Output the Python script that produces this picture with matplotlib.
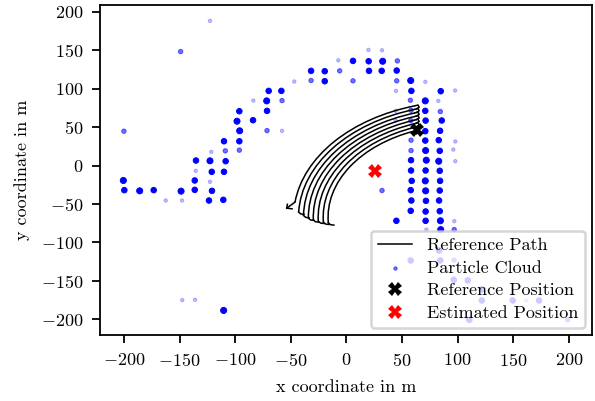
import matplotlib
matplotlib.use("Agg")
import matplotlib.pyplot as plt
import numpy as np
from matplotlib.patches import Arc

plt.rcParams['font.family'] = 'serif'
plt.rcParams['font.serif'] = ['cmr10']
plt.rcParams['mathtext.fontset'] = 'cm'
plt.rcParams['axes.formatter.use_mathtext'] = True
plt.rcParams['axes.unicode_minus'] = True

## Data
# particle cloud: x, y in m and weight (1 = heavy particle, small = light)
particleX = [-122.6, -149.0, -7.2, -31.7, -19.4, -6.0, -46.8, -31.7, -19.4, -69.8,
             -58.4, -83.6, -71.6, -57.8, -96.2, -71.3, -98.3, -83.9, -200.0, -95.9,
             -71.3, -57.8, -110.0, -96.2, -108.8, -121.4, -96.2, -135.2, -122.6, -108.5,
             -135.4, -121.0, -110.0, -200.5, -136.3, -122.6, -199.6, -185.8, -173.2, -148.6,
             -136.3, -120.8, -162.4, -147.7, -123.5, -110.6, -147.5, -136.0, -110.3,
             6.0, 19.9, 32.1, 20.1, 32.7, 45.9, 20.4, 31.8, 45.3, 6.0,
             45.3, 57.9, 71.0, 44.7, 58.5, 84.9, 97.8, 57.6, 71.0, 82.7,
             58.2, 71.0, 84.5, 44.4, 44.4, 58.0, 71.3, 85.8, 71.0, 84.3,
             58.2, 71.0, 83.1, 98.0, 58.2, 71.3, 84.0, 96.2, 58.2, 71.9,
             83.1, 98.0, 58.2, 71.3, 84.0, 58.8, 71.0, 84.3, 32.1, 57.9,
             71.3, 84.0, 58.5, 71.6, 83.4, 57.9, 71.3, 84.0, 45.0, 71.3,
             84.6, 97.1, 72.0, 84.9, 97.0,
             83.4, 57.9, 84.5, 96.9, 96.6, 109.2, 121.8, 121.8, 149.6, 161.6,
             173.3, 198.2, 199.0, 110.6]
particleY = [188.4, 148.4, 137.0, 123.3, 122.8, 123.3, 109.4, 110.7, 109.8, 97.2,
             97.2, 84.6, 84.2, 84.6, 70.7, 71.2, 57.7, 59.0, 44.7, 45.2,
             45.5, 45.2, 31.6, 31.6, 19.1, 17.8, 20.0, 6.5, 6.1, 5.6,
             -6.9, -8.2, -8.2, -19.5, -19.5, -21.2, -32.1, -33.0, -32.1, -33.4,
             -31.7, -33.0, -45.6, -45.6, -45.6, -44.7, -175.4, -174.9, -188.8,
             136.3, 150.6, 150.1, 135.8, 135.8, 136.3, 123.3, 123.3, 123.7, 110.3,
             110.3, 110.7, 109.0, 97.2, 97.2, 96.8, 97.7, 85.0, 84.2, 84.2,
             72.0, 71.2, 70.3, 71.2, 58.5, 58.5, 58.5, 58.6, 44.7, 45.2,
             33.0, 32.5, 33.0, 31.3, 19.5, 19.5, 19.1, 20.8, 6.9, 6.9,
             5.6, 5.6, -6.5, -6.5, -6.9, -20.0, -20.0, -20.0, -32.6, -32.1,
             -33.0, -32.6, -45.6, -46.0, -45.6, -59.0, -59.9, -59.5, -72.0, -72.0,
             -72.0, -72.5, -83.5, -83.5, -83.5,
             -110.7, -123.7, -123.7, -123.3, -148.8, -149.7, -161.5, -175.8, -175.8, -175.8,
             -175.8, -162.5, -201.0, -201.0]
particleW = [0.2, 0.45, 0.2, 0.8, 0.8, 0.45, 0.2, 0.45, 0.8, 0.8,
             0.8, 0.2, 1.0, 0.45, 0.8, 0.8, 1.0, 0.8, 0.45, 1.0,
             0.45, 0.2, 0.8, 0.8, 0.45, 0.2, 0.45, 0.8, 1.0, 0.8,
             0.2, 0.8, 0.8, 1.0, 0.8, 0.2, 0.8, 1.0, 0.8, 1.0,
             0.8, 0.8, 0.2, 0.2, 0.8, 0.8, 0.2, 0.2, 1.0,
             0.8, 0.2, 0.2, 0.8, 1.0, 0.45, 0.8, 0.8, 0.8, 0.45,
             0.45, 1.0, 0.2, 0.2, 0.8, 0.8, 0.2, 0.45, 1.0, 0.2,
             0.45, 0.8, 0.45, 0.2, 0.2, 0.45, 0.8, 0.8, 0.8, 0.8,
             0.45, 0.8, 0.8, 0.2, 0.45, 1.0, 0.8, 0.2, 0.8, 1.0,
             1.0, 0.2, 0.8, 0.8, 0.8, 0.8, 1.0, 0.8, 0.45, 0.8,
             1.0, 0.8, 0.8, 0.8, 0.8, 0.8, 0.8, 0.8, 0.8, 0.8,
             1.0, 0.2, 0.2, 1.0, 0.45,
             0.8, 0.8, 0.8, 0.45, 0.8, 0.8, 0.8, 0.8, 0.8, 0.2,
             0.8, 0.2, 0.45, 0.8]

# reference path: concentric arcs around one centre
pathCenter = (103.6, -67.3)
pathRadius = [151.0, 146.6, 142.1, 137.7, 133.3, 128.9, 124.4, 120.0]
pathStartDeg = [172.5, 177.4, 179.1, 180.5, 181.5, 182.3, 183.0, 183.5]
pathEndDeg = [106.1, 106.6, 107.1, 107.7, 108.3, 108.9, 109.6, 110.4]

# small turns at the ends of the arcs
startHooksX = [[-46.1, -53.6], [-42.9, -41.0, -38.0], [-38.5, -36.5, -33.5], [-34.1, -32.1, -29.1],
               [-29.7, -27.7, -24.7], [-25.2, -23.2, -20.2], [-20.6, -18.6, -15.6], [-16.2, -14.2, -11.2]]
startHooksY = [[-47.6, -55.6], [-60.6, -63.1, -63.6], [-65.1, -67.6, -68.1], [-68.5, -71.0, -71.5],
               [-70.8, -73.3, -73.8], [-72.5, -75.0, -75.5], [-73.8, -76.3, -76.8], [-74.6, -77.1, -77.6]]
endHooksX = [[61.8, 64.5, 65.5, 63.0]] * 8
endHooksY = [[77.8, 78.8, 75.8, 73.8], [73.2, 74.2, 71.2, 69.2], [68.5, 69.5, 66.5, 64.5],
             [63.9, 64.9, 61.9, 59.9], [59.3, 60.3, 57.3, 55.3], [54.6, 55.6, 52.6, 50.6],
             [49.9, 50.9, 47.9, 45.9], [45.2, 46.2, 43.2, 41.2]]
arrowX = [-53.0, -53.6, -48.8]
arrowY = [-50.5, -55.6, -56.4]

refPos = (63.8, 46.5)
estPos = (26.1, -6.9)

## Plot
fig = plt.figure(figsize=(5.95, 4.01), dpi=100)
ax = fig.add_axes([0.1686, 0.1638, 0.8269, 0.8230])

w = np.array(particleW)
colors = np.zeros((len(w), 4))
colors[:, 2] = 1.0
colors[:, 3] = np.clip(w * 1.25, 0, 1)
ax.scatter(particleX, particleY, s=3 + 16 * w, facecolors=colors, edgecolors=colors,
           linewidths=0.7, zorder=2)

for i in range(len(pathRadius)):
    ax.add_patch(Arc(pathCenter, 2 * pathRadius[i], 2 * pathRadius[i],
                     theta1=pathEndDeg[i], theta2=pathStartDeg[i], color='black', lw=1.1, zorder=3))
    ax.plot(startHooksX[i], startHooksY[i], color='black', lw=1.1, zorder=3)
    ax.plot(endHooksX[i], endHooksY[i], color='black', lw=1.1, zorder=3)
ax.plot(arrowX, arrowY, color='black', lw=1.1, zorder=3)

pathHandle, = ax.plot([], [], color='black', lw=1.1, label='Reference Path')
cloudHandle = ax.scatter([], [], s=6, facecolors=[(0, 0, 1, 0.55)], edgecolors=[(0, 0, 1, 0.55)],
                         linewidths=0.7, label='Particle Cloud')
refHandle, = ax.plot(refPos[0], refPos[1], 'X', color='black', ms=10, mew=0, zorder=4,
                     label='Reference Position')
estHandle, = ax.plot(estPos[0], estPos[1], 'X', color='red', ms=10, mew=0, zorder=4,
                     label='Estimated Position')

ax.set_xlim(-221.2, 221.2)
ax.set_ylim(-221.2, 208.7)
ax.set_xticks(np.arange(-200, 201, 50))
ax.set_yticks(np.arange(-200, 201, 50))
ax.set_xlabel('x coordinate in m', fontsize=13, labelpad=8)
ax.set_ylabel('y coordinate in m', fontsize=13, labelpad=8)
ax.tick_params(labelsize=13, length=6, width=1.3, pad=6)
for sp in ax.spines.values():
    sp.set_linewidth(1.3)

leg = ax.legend(handles=[pathHandle, cloudHandle, refHandle, estHandle], loc='lower right',
                fontsize=13, framealpha=0.8, borderaxespad=0.4, labelspacing=0.38,
                handlelength=1.9)
leg.get_frame().set_linewidth(1.8)

fig.savefig('out.png', dpi=100)
